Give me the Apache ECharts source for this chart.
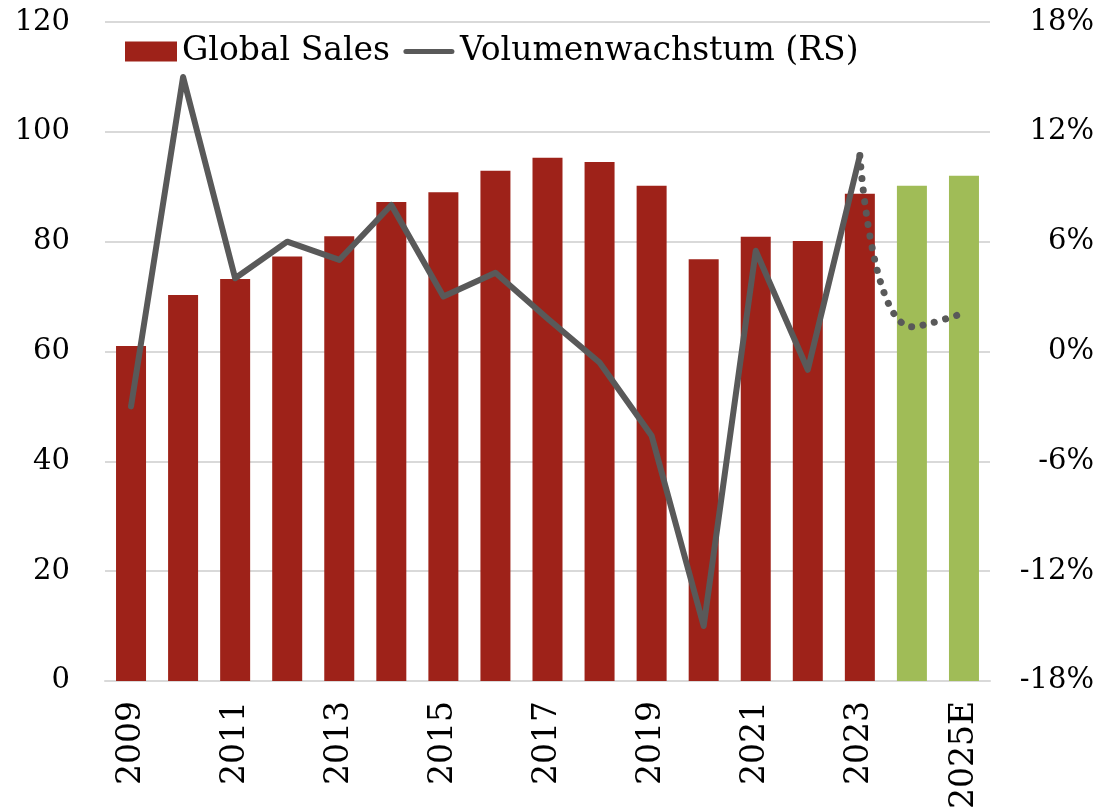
<!DOCTYPE html>
<html>
<head>
<meta charset="utf-8">
<script src="https://cdn.jsdelivr.net/npm/echarts@6/dist/echarts.min.js"></script>
<style>
html,body{margin:0;padding:0;background:#fff;}
#chart{width:1111px;height:812px;}
</style>
</head>
<body>
<div id="chart"></div>
<script>
var categories = ['2009','2010','2011','2012','2013','2014','2015','2016','2017','2018','2019','2020','2021','2022','2023','2024E','2025E'];
var salesValues = [61.0, 70.3, 73.2, 77.3, 81.0, 87.2, 89.0, 92.9, 95.3, 94.5, 90.2, 76.8, 80.9, 80.1, 88.7, 90.2, 92.0];
var forecastFlags = [0,0,0,0,0,0,0,0,0,0,0,0,0,0,0,1,1];
var growthActual = [-3.0, 15.0, 4.0, 6.0, 5.0, 8.0, 3.0, 4.3, 1.8, -0.6, -4.6, -15.0, 5.5, -1.0, 10.7, null, null];
var growthForecast = [null, null, null, null, null, null, null, null, null, null, null, null, null, null, 10.7, 1.35, 2.1];
var leftTicks = {min: 0, max: 120, interval: 20};
var rightTicks = {min: -18, max: 18, interval: 6};

var RED = '#9E2219', GREEN = '#A0BC57', GREY = '#595959';
var FONT = 'DejaVu Serif';

var chart = echarts.init(document.getElementById('chart'), null, {renderer: 'canvas'});
var barData = salesValues.map(function (v, i) {
  return forecastFlags[i] ? {value: v, itemStyle: {color: GREEN}} : v;
});
var lineIcon = 'path://M0,0 M52,20 M3,7.5 L49,7.5 A2.5,2.5 0 0 1 49,12.5 L3,12.5 A2.5,2.5 0 0 1 3,7.5 Z';
chart.setOption({
  animation: false,
  textStyle: {fontFamily: FONT},
  grid: {left: 105, right: 121, top: 22, bottom: 130, containLabel: false},
  legend: {
    left: 120, top: 30,
    itemWidth: 52, itemHeight: 20, itemGap: 13,
    data: [{name: 'Global Sales', icon: 'rect'}, {name: 'Volumenwachstum (RS)', icon: lineIcon}],
    textStyle: {fontFamily: FONT, fontSize: 33, color: '#000'}
  },
  xAxis: {
    type: 'category',
    data: categories,
    axisTick: {show: false},
    axisLine: {lineStyle: {color: '#d9d9d9', width: 2}},
    axisLabel: {rotate: 90, interval: 1, margin: 20, fontFamily: FONT, fontSize: 33, color: '#000'}
  },
  yAxis: [{
    type: 'value', min: leftTicks.min, max: leftTicks.max, interval: leftTicks.interval,
    axisLine: {show: false}, axisTick: {show: false},
    splitLine: {lineStyle: {color: '#d9d9d9', width: 2}},
    axisLabel: {fontFamily: FONT, fontSize: 29, color: '#000', margin: 35}
  }, {
    type: 'value', min: rightTicks.min, max: rightTicks.max, interval: rightTicks.interval,
    axisLine: {show: false}, axisTick: {show: false}, splitLine: {show: false},
    axisLabel: {fontFamily: FONT, fontSize: 29, color: '#000', margin: 104, align: 'right',
      formatter: function (v) { return v + '%'; }}
  }],
  series: [{
    name: 'Global Sales', type: 'bar', data: barData, barWidth: 30,
    itemStyle: {color: RED}
  }, {
    name: 'Volumenwachstum (RS)', type: 'line', yAxisIndex: 1, data: growthActual,
    symbol: 'none', lineStyle: {color: GREY, width: 6, cap: 'round', join: 'round'},
    itemStyle: {color: GREY}
  }, {
    name: 'forecast', type: 'line', yAxisIndex: 1, data: growthForecast,
    symbol: 'none', smooth: 0.5,
    lineStyle: {color: GREY, width: 7, type: [0.1, 11.5], cap: 'round'}
  }]
});
</script>
</body>
</html>
